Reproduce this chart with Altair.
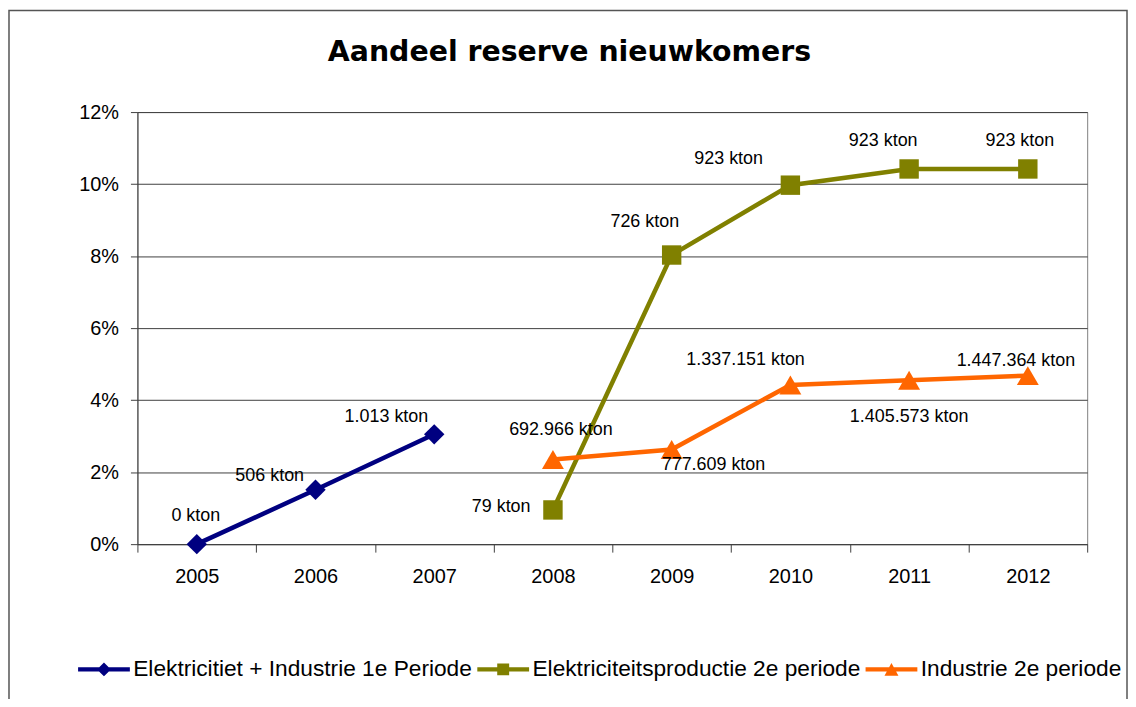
import altair as alt
import pandas as pd

# ---------------- data ----------------
years = ["2005", "2006", "2007", "2008", "2009", "2010", "2011", "2012"]

series_names = [
    "Elektricitiet + Industrie 1e Periode",
    "Elektriciteitsproductie 2e periode",
    "Industrie 2e periode",
]
series_colors = ["#000080", "#808000", "#FF6600"]

s1_years = ["2005", "2006", "2007"]
s1_values = [0.0, 1.51, 3.05]
s1_labels = ["0 kton", "506 kton", "1.013 kton"]

s2_years = ["2008", "2009", "2010", "2011", "2012"]
s2_values = [0.95, 8.03, 9.97, 10.42, 10.42]
s2_labels = ["79 kton", "726 kton", "923 kton", "923 kton", "923 kton"]

s3_years = ["2008", "2009", "2010", "2011", "2012"]
s3_values = [2.35, 2.63, 4.42, 4.55, 4.68]
s3_labels = ["692.966 kton", "777.609 kton", "1.337.151 kton", "1.405.573 kton", "1.447.364 kton"]

y_ticks = [0, 2, 4, 6, 8, 10, 12]

title_text = "Aandeel reserve nieuwkomers"

rows = []
for name, ys, vs, ls in [
    (series_names[0], s1_years, s1_values, s1_labels),
    (series_names[1], s2_years, s2_values, s2_labels),
    (series_names[2], s3_years, s3_values, s3_labels),
]:
    for y, v, l in zip(ys, vs, ls):
        rows.append({"series": name, "year": y, "value": v, "label": l})
df = pd.DataFrame(rows)

# ---------------- styling ----------------
FONT = "Liberation Sans, Arial, sans-serif"
AXIS_COLOR = "#404040"

# label placement (pixel offsets from each point, like Excel's manual label positions)
label_offsets = {
    (series_names[0], "2005"): (-1, -28),
    (series_names[0], "2006"): (-46, -14),
    (series_names[0], "2007"): (-48, -17),
    (series_names[1], "2008"): (-52, -3),
    (series_names[1], "2009"): (-27, -33),
    (series_names[1], "2010"): (-62, -26),
    (series_names[1], "2011"): (-26, -28),
    (series_names[1], "2012"): (-8, -28),
    (series_names[2], "2008"): (8, -30),
    (series_names[2], "2009"): (42, 16),
    (series_names[2], "2010"): (-45, -25),
    (series_names[2], "2011"): (0, 37),
    (series_names[2], "2012"): (-12, -15),
}

marker_shapes = ["diamond", "square", "triangle-up"]
marker_sizes = [420, 380, 484]

# legend symbols: a line with the marker in its middle (units of 7 px)
legend_paths = [
    "M-1,-0.32H6.43V0.32H-1Z M1.714,0L2.714,-1L3.714,0L2.714,1Z",
    "M-1,-0.32H6.43V0.32H-1Z M1.857,-0.857H3.571V0.857H1.857Z",
    "M-1,-0.32H6.43V0.32H-1Z M2.714,-0.93L3.714,0.93L1.714,0.93Z",
]

color_scale = alt.Scale(domain=series_names, range=series_colors)
x_scale = alt.Scale(domain=years, paddingInner=0, paddingOuter=0)
y_scale = alt.Scale(domain=[0, 12], nice=False)

x_enc = alt.X(
    "year:N",
    scale=x_scale,
    axis=alt.Axis(
        title=None, labelAngle=0, labelFont=FONT, labelFontSize=20, labelColor="black",
        tickBand="extent", tickSize=8, tickColor=AXIS_COLOR, domainColor=AXIS_COLOR,
        labelPadding=15, grid=False,
    ),
)
y_enc = alt.Y(
    "value:Q",
    scale=y_scale,
    axis=alt.Axis(
        title=None, values=y_ticks, labelExpr="datum.value + '%'", labelFont=FONT,
        labelFontSize=20, labelColor="black", grid=True, gridColor=AXIS_COLOR, gridWidth=1,
        tickSize=7, tickColor=AXIS_COLOR, domainColor=AXIS_COLOR, labelPadding=12,
    ),
)

base = alt.Chart(df)
one = pd.DataFrame({"a": [0]})

border = alt.Chart(one).mark_rect(
    fillOpacity=0, stroke="#555555", strokeWidth=1.5
).encode(
    x=alt.value(-129), x2=alt.value(994), y=alt.value(-102), y2=alt.value(700)
)

title = alt.Chart(one).mark_text(
    font="DejaVu Sans", fontSize=28.5, fontWeight="bold", color="black",
    align="center", baseline="alphabetic",
).encode(x=alt.value(434), y=alt.value(-51), text=alt.value(title_text))

layers = [border, title]

for name, col in zip(series_names, series_colors):
    layers.append(
        base.transform_filter(alt.datum.series == name)
        .mark_line(strokeWidth=4.5, color=col)
        .encode(x=x_enc, y=y_enc)
    )

for name, col, shp, sz in zip(series_names, series_colors, marker_shapes, marker_sizes):
    layers.append(
        base.transform_filter(alt.datum.series == name)
        .mark_point(shape=shp, filled=True, size=sz, opacity=1, color=col)
        .encode(x="year:N", y="value:Q")
    )

for (name, yr), (ddx, ddy) in label_offsets.items():
    layers.append(
        base.transform_filter((alt.datum.series == name) & (alt.datum.year == yr))
        .mark_text(font=FONT, fontSize=18, color="black", dx=ddx, dy=ddy,
                   align="center", baseline="middle")
        .encode(x="year:N", y="value:Q", text="label:N")
    )

legend_def = alt.Legend(
    title=None, orient="none", direction="horizontal", legendX=-64, legendY=548,
    labelFont=FONT, labelFontSize=22.8, labelColor="black", symbolSize=196,
    symbolStrokeWidth=0, labelOffset=37, columnPadding=0, symbolOpacity=1,
    labelLimit=600,
)
legend_layer = base.transform_filter("false").mark_point(filled=True, opacity=1).encode(
    x="year:N", y="value:Q",
    color=alt.Color("series:N", scale=color_scale, legend=legend_def),
    shape=alt.Shape("series:N", scale=alt.Scale(domain=series_names, range=legend_paths),
                    legend=legend_def),
)
layers.append(legend_layer)

chart = alt.layer(*layers).properties(
    width=954,
    height=434,
    padding={"left": 130, "top": 103, "right": 41, "bottom": 154},
    autosize=alt.AutoSizeParams(type="none"),
    background="white",
).configure_view(stroke="#808080", strokeWidth=1)

chart.save("out.html", embed_options={"renderer": "svg", "actions": False})
